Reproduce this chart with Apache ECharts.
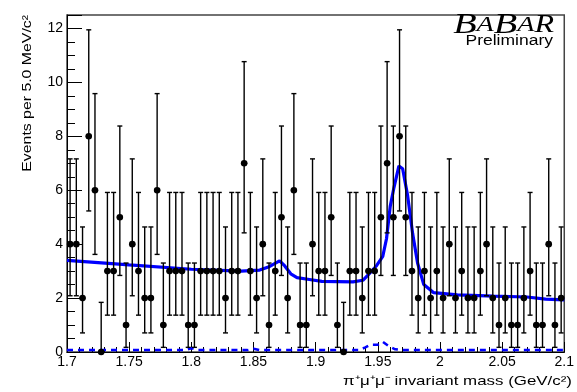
<!DOCTYPE html>
<html>
<head>
<meta charset="utf-8">
<script src="https://cdn.jsdelivr.net/npm/echarts@6/dist/echarts.min.js"></script>
<style>
html,body{margin:0;padding:0;background:#fff;}
#c{width:577px;height:392px;}
</style>
</head>
<body>
<div id="c"></div>
<script>
// ---- data ----
const binStart = 1.7;
const binWidth = 0.005;
const counts = [4,4,2,8,6,0,3,3,5,1, 4,3,2,2,6,1,3,3,3,1,
                1,3,3,3,3,2,3,3,7,3, 2,4,1,3,5,2,6,1,1,4,
                3,3,5,1,0,3,3,2,3,3, 5,7,5,8,5,3,2,3,2,3,
                2,4,2,3,2,2,3,4,2,1, 2,1,1,2,3,1,1,4,1,2];
// 68.27% Poisson (Garwood) interval bounds, indexed by count
const errLow  = [0, 0.173, 0.708, 1.367, 2.086, 2.840, 3.620, 4.419, 5.232];
const errHigh = [1.841, 3.300, 4.638, 5.918, 7.163, 8.382, 9.584, 10.77, 11.95];

const fitX = [1.700,1.750,1.800,1.840,1.855,1.862,1.867,1.871,1.875,1.880,1.885,1.895,1.905,1.930,1.938,1.943,1.949,1.954,1.957,1.960,1.963,1.967,1.970,1.974,1.978,1.982,1.987,1.995,2.014,2.043,2.070,2.085,2.100];
const fitY = [3.40, 3.23, 3.07, 3.00, 3.04, 3.15, 3.28, 3.38, 3.20, 2.90, 2.76, 2.69, 2.62, 2.60, 2.66, 2.90, 3.20, 3.55, 4.20, 5.40, 6.10, 6.90, 6.80, 5.80, 4.40, 3.30, 2.50, 2.20, 2.12, 2.07, 2.04, 1.96, 1.93];

const bkgX = [1.700,1.795,1.800,1.805,1.845,1.850,1.855,1.935,1.940,1.944,1.950,1.954,1.959,1.964,1.970,2.100];
const bkgY = [0.07, 0.07, 0.14, 0.07, 0.07, 0.12, 0.07, 0.07, 0.17, 0.27, 0.27, 0.38, 0.21, 0.10, 0.07, 0.07];

const xTitle = 'π⁺μ⁺μ⁻ invariant mass (GeV/c²)';
const yTitle = 'Events per 5.0 MeV/c²';

// ---- build series data ----
const histData = counts.map((n, i) => [
  +(binStart + binWidth * (i + 0.5)).toFixed(4), n, errLow[n], errHigh[n]
]);
const fitData = fitX.map((x, i) => [x, fitY[i]]);
const bkgData = bkgX.map((x, i) => [x, bkgY[i]]);

const chart = echarts.init(document.getElementById('c'), null, {renderer: 'canvas'});
const sans = 'Liberation Sans, Arial, sans-serif';
const serif = 'Liberation Serif, Times New Roman, serif';
const lblFont = {fontFamily: sans, fontSize: 14, color: '#000'};

chart.setOption({
  animation: false,
  backgroundColor: '#fff',
  grid: {left: 67, right: 9, top: 15, bottom: 40, show: true, borderColor: '#444', borderWidth: 1.5, backgroundColor: '#fff'},
  xAxis: {
    type: 'value', min: 1.7, max: 2.1, interval: 0.05,
    axisLine: {show: true, onZero: false, lineStyle: {color: '#000', width: 1}},
    axisTick: {show: true, inside: true, length: 10, lineStyle: {color: '#000'}},
    minorTick: {show: true, splitNumber: 5, length: 5, lineStyle: {color: '#000'}},
    splitLine: {show: false},
    axisLabel: Object.assign({margin: 3}, lblFont)
  },
  yAxis: {
    type: 'value', min: 0, max: 12.5, interval: 2,
    axisLine: {show: true, lineStyle: {color: '#000', width: 1}},
    axisTick: {show: true, inside: true, length: 15, lineStyle: {color: '#000'}},
    minorTick: {show: true, splitNumber: 4, length: 8, lineStyle: {color: '#000'}},
    splitLine: {show: false},
    axisLabel: Object.assign({margin: 4, showMaxLabel: false}, lblFont)
  },
  series: [
    {
      type: 'line', data: bkgData, showSymbol: false, z: 3,
      lineStyle: {color: '#0000ff', width: 2.5, type: [6, 5]}
    },
    {
      type: 'line', data: fitData, showSymbol: false, z: 4,
      lineStyle: {color: '#0000ff', width: 3.2}
    },
    {
      type: 'custom', z: 5, clip: false,
      data: histData,
      renderItem: function (params, api) {
        const x = api.value(0), n = api.value(1), lo = api.value(2), hi = api.value(3);
        const p = api.coord([x, n]);
        const pLo = api.coord([x, lo]);
        const pHi = api.coord([x, hi]);
        const pl = api.coord([x - binWidth / 2, n]);
        const pr = api.coord([x + binWidth / 2, n]);
        const cap = 2.5;
        const st = {stroke: '#000', lineWidth: 1.4};
        return {
          type: 'group',
          children: [
            {type: 'line', shape: {x1: pLo[0], y1: pLo[1], x2: pHi[0], y2: pHi[1]}, style: st},
            {type: 'line', shape: {x1: pHi[0] - cap, y1: pHi[1], x2: pHi[0] + cap, y2: pHi[1]}, style: st},
            {type: 'line', shape: {x1: pLo[0] - cap, y1: pLo[1], x2: pLo[0] + cap, y2: pLo[1]}, style: st},
            {type: 'line', shape: {x1: pl[0], y1: pl[1], x2: pr[0], y2: pr[1]}, style: st},
            {type: 'circle', shape: {cx: p[0], cy: p[1], r: 3.3}, style: {fill: '#000'}}
          ]
        };
      }
    }
  ],
  graphic: [
    {
      type: 'text', x: 554, y: 40, scaleX: 1.28, z: 10,
      style: {
        x: 0, y: 0, align: 'right', verticalAlign: 'bottom',
        text: '{b|B}{a|A}{b|B}{a|A}{r|R}',
        rich: {
          b: {fontFamily: serif, fontStyle: 'italic', fontSize: 30, fill: '#000'},
          a: {fontFamily: serif, fontStyle: 'italic', fontSize: 22, fill: '#000'},
          r: {fontFamily: serif, fontStyle: 'italic', fontSize: 25, fill: '#000'}
        }
      }
    },
    {
      type: 'text', x: 553, y: 34, scaleX: 1.25, z: 10,
      style: {x: 0, y: 0, align: 'right', verticalAlign: 'top', text: 'Preliminary', fontFamily: sans, fontSize: 14, fill: '#000'}
    },
    {
      type: 'text', x: 572, y: 381, scaleX: 1.3, z: 10,
      style: {x: 0, y: 0, align: 'right', verticalAlign: 'middle', text: xTitle, fontFamily: sans, fontSize: 13, fill: '#000'}
    },
    {
      type: 'text', x: 28, y: 15, rotation: Math.PI / 2, scaleX: 1.32, z: 10,
      style: {x: 0, y: 0, align: 'right', verticalAlign: 'middle', text: yTitle, fontFamily: sans, fontSize: 12, fill: '#000'}
    }
  ]
});
</script>
</body>
</html>
